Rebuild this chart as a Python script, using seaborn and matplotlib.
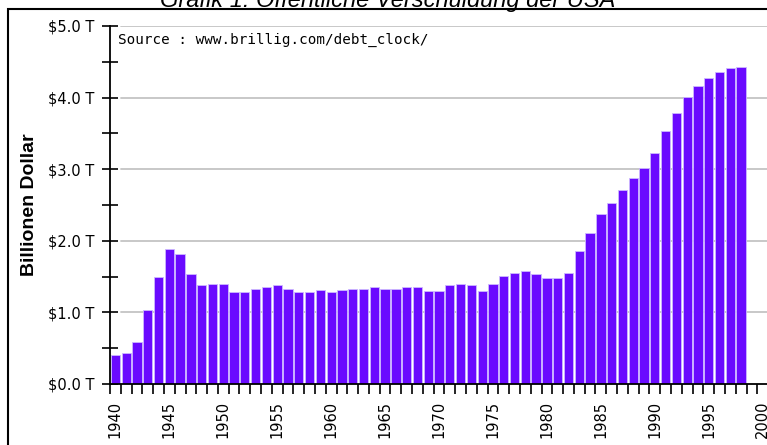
import matplotlib
matplotlib.use("Agg")
import matplotlib.pyplot as plt
import seaborn as sns
import pandas as pd
import numpy as np
from matplotlib.patches import Rectangle
from matplotlib.ticker import FixedLocator, MultipleLocator

years = list(range(1940, 1999))
debt_trillions = [
    0.41, 0.43, 0.58, 1.03, 1.50, 1.88, 1.81, 1.53, 1.38, 1.40,
    1.40, 1.28, 1.28, 1.33, 1.36, 1.38, 1.33, 1.28, 1.28, 1.31,
    1.28, 1.31, 1.33, 1.33, 1.36, 1.33, 1.33, 1.36, 1.36, 1.30,
    1.30, 1.38, 1.40, 1.38, 1.30, 1.40, 1.51, 1.55, 1.58, 1.53,
    1.48, 1.48, 1.55, 1.86, 2.11, 2.38, 2.53, 2.71, 2.88, 3.01,
    3.23, 3.53, 3.78, 4.01, 4.16, 4.28, 4.36, 4.41, 4.43,
]
year_labels = [1940, 1945, 1950, 1955, 1960, 1965, 1970, 1975, 1980, 1985, 1990, 1995, 2000]
y_ticks = [0.0, 1.0, 2.0, 3.0, 4.0, 5.0]
y_tick_labels = ["$0.0 T", "$1.0 T", "$2.0 T", "$3.0 T", "$4.0 T", "$5.0 T"]

title = "Grafik 1: Öffentliche Verschuldung der USA"
y_label = "Billionen Dollar"
source = "Source : www.brillig.com/debt_clock/"

df = pd.DataFrame({"year": years, "debt": debt_trillions})

sns.set_theme(style="white")
plt.rcParams["font.family"] = ["DejaVu Sans"]
plt.rcParams["text.color"] = "black"
plt.rcParams["xtick.color"] = "black"
plt.rcParams["ytick.color"] = "black"
plt.rcParams["axes.labelcolor"] = "black"

W, H = 767, 445
fig = plt.figure(figsize=(W / 100, H / 100), dpi=100)
left_px, right_px, bottom_px, top_px = 110, 767, 384, 26
ax_w = right_px - left_px
ax = fig.add_axes([left_px / W, (H - bottom_px) / H, ax_w / W, (bottom_px - top_px) / H])
ax.patch.set_alpha(0)

sns.barplot(data=df, x="year", y="debt", native_scale=True, ax=ax,
            color="#6A0AFF", saturation=1, width=0.86,
            edgecolor="#cdb8ff", linewidth=0.6, zorder=3)

ax.set_xlim(1939.5, 2000.4)
ax.set_ylim(0, 5.0)

# grid lines (start slightly right of the axis)
for yv in y_ticks[1:]:
    ax.axhline(yv, xmin=0.017, xmax=1, color="#c4c4c4", linewidth=1.3, zorder=1)

# y ticks
ax.yaxis.set_major_locator(FixedLocator(y_ticks))
ax.set_yticklabels(y_tick_labels)
ax.yaxis.set_minor_locator(MultipleLocator(0.5))
ax.tick_params(axis="y", which="both", direction="inout", length=12, width=1.2,
               color="black", labelcolor="black", left=True, labelsize=10.5, pad=5)

# x ticks: labels at centers, tick marks at year boundaries
ax.set_xticks(year_labels)
ax.set_xticklabels([str(y) for y in year_labels], rotation=90)
ax.xaxis.set_minor_locator(FixedLocator(np.arange(1939.5, 2000, 1.0)))
ax.tick_params(axis="x", which="major", length=0, labelsize=10.5, pad=12, labelcolor="black")
ax.tick_params(axis="x", which="minor", direction="out", length=7, width=1.2,
               color="black", bottom=True)

for s in ["top", "right"]:
    ax.spines[s].set_visible(False)
for s in ["left", "bottom"]:
    ax.spines[s].set_color("black")
    ax.spines[s].set_linewidth(1.3)
    ax.spines[s].set_zorder(5)

ax.set_xlabel("")
ax.set_ylabel(y_label, fontsize=14, fontweight="bold", family=["Liberation Sans"], color="black")
ax.yaxis.label.set_va("center")
ax.yaxis.set_label_coords(-(110 - 30) / ax_w, 0.5)

fig.text(118 / W, 1 - 40 / H, source, fontsize=10.3, family=["DejaVu Sans Mono"],
         va="center", ha="left", color="black")

fig.text(388 / W, 1 - 6.5 / H, title, ha="center", va="baseline", fontsize=17,
         style="italic", family=["Liberation Sans"], color="black")

fig.add_artist(Rectangle((8 / W, -0.1), 1.2, 1.1 - 9.5 / H, transform=fig.transFigure,
                         fill=False, edgecolor="black", linewidth=1.5))

fig.savefig("out.png", dpi=100)
